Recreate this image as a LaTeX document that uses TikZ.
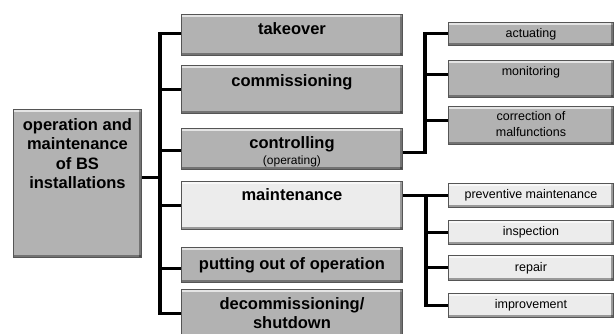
\documentclass[tikz,border=0pt]{standalone}
\usepackage{fontspec}
\setmainfont{Liberation Sans}
\definecolor{dkfill}{HTML}{B2B2B2}
\definecolor{ltfill}{HTML}{ECECEC}
\definecolor{edge}{HTML}{555555}
\tikzset{
  bevel/.style={draw=edge, line width=0.9pt, rectangle, inner sep=0pt,
    path picture={
      \fill[white,opacity=.65] ([xshift=0.5pt,yshift=-0.5pt]path picture bounding box.north west) rectangle ([xshift=-0.5pt,yshift=-2.2pt]path picture bounding box.north east);
      \fill[black,opacity=.35] ([xshift=-2.5pt]path picture bounding box.north east) rectangle (path picture bounding box.south east);
      \fill[black,opacity=.35] (path picture bounding box.south west) rectangle ([yshift=2.5pt]path picture bounding box.south east);
    }},
  dkbox/.style={bevel, fill=dkfill},
  ltbox/.style={bevel, fill=ltfill},
  midbox/.style={minimum width=221pt, anchor=north west},
  smallbox/.style={minimum width=165pt, anchor=north west},
  bigtext/.style={font=\bfseries\fontsize{16.5}{19.5}\selectfont, align=center},
  smalltext/.style={font=\fontsize{12.5}{16}\selectfont, align=center},
  toplab/.style={anchor=north, inner sep=0pt, yshift=-#1},
  conn/.style={line width=3.1pt, line cap=butt, line join=miter},
}
\begin{document}
\begin{tikzpicture}[x=1pt,y=-1pt]
\useasboundingbox (0,0) rectangle (614,334);
\clip (0,0) rectangle (614,334);
% main box
\node[dkbox, minimum width=128pt, minimum height=148pt, anchor=north west,
  label={[toplab=9pt, bigtext]north:operation and\\maintenance\\of BS\\installations}] (main) at (13,109) {};
% middle boxes
\node[dkbox, midbox, minimum height=41pt, label={[toplab=8pt, bigtext]north:takeover}] (takeover) at (181,14) {};
\node[dkbox, midbox, minimum height=48pt, label={[toplab=9pt, bigtext]north:commissioning}] (comm) at (181,65) {};
\node[dkbox, midbox, minimum height=41pt, label={[toplab=8pt, bigtext]north:controlling\\[-3pt]{\mdseries\fontsize{12}{14}\selectfont (operating)}}] (ctrl) at (181,128) {};
\node[ltbox, midbox, minimum height=48pt, label={[toplab=7pt, bigtext]north:maintenance}] (maint) at (181,181) {};
\node[dkbox, midbox, minimum height=35pt, bigtext] (putout) at (181,247) {putting out of operation};
\node[dkbox, midbox, minimum height=48pt, label={[toplab=8pt, bigtext]north:decommissioning/\\shutdown}] (decom) at (181,289) {};
% controlling children
\node[dkbox, smallbox, minimum height=23pt, smalltext] (act) at (448,22) {actuating};
\node[dkbox, smallbox, minimum height=37pt, label={[toplab=6pt, smalltext]north:monitoring}] (mon) at (448,60) {};
\node[dkbox, smallbox, minimum height=38pt, label={[toplab=5pt, smalltext]north:correction of\\malfunctions}] (corr) at (448,106) {};
% maintenance children
\node[ltbox, smallbox, minimum height=24pt, smalltext] (prev) at (448,183) {preventive maintenance};
\node[ltbox, smallbox, minimum height=24pt, smalltext] (insp) at (448,220) {inspection};
\node[ltbox, smallbox, minimum height=25pt, smalltext] (rep) at (448,255) {repair};
\node[ltbox, smallbox, minimum height=24pt, smalltext] (impr) at (448,293) {improvement};
% attachment points
\coordinate (sl) at (160,0);
\coordinate (sc) at (425,0);
\coordinate (sm) at (426,0);
\coordinate (pmain) at ([yshift=6pt]main.east);
\coordinate (ptake) at ([yshift=1.5pt]takeover.west);
\coordinate (pctrlw) at ([yshift=-1.5pt]ctrl.west);
\coordinate (pput) at ([yshift=-3.5pt]putout.west);
\coordinate (pctrle) at ([yshift=-3.5pt]ctrl.east);
\coordinate (pmon) at ([yshift=4.5pt]mon.west);
\coordinate (pcorr) at ([yshift=5pt]corr.west);
\coordinate (pmainte) at ([yshift=10pt]maint.east);
% left tree
\draw[conn] (ptake) -| (sl |- decom.west) -- (decom.west);
\draw[conn] (pmain) -- (sl |- pmain);
\draw[conn] (sl |- comm.west) -- (comm.west);
\draw[conn] (sl |- pctrlw) -- (pctrlw);
\draw[conn] (sl |- maint.west) -- (maint.west);
\draw[conn] (sl |- pput) -- (pput);
% controlling tree
\draw[conn] (pctrle) -| (sc |- act.west) -- (act.west);
\draw[conn] (sc |- pmon) -- (pmon);
\draw[conn] (sc |- pcorr) -- (pcorr);
% maintenance tree
\draw[conn] (pmainte) -- (pmainte -| prev.west);
\draw[conn] (sm |- pmainte) |- (impr.west);
\draw[conn] (sm |- insp.west) -- (insp.west);
\draw[conn] (sm |- rep.west) -- (rep.west);
\end{tikzpicture}
\end{document}
